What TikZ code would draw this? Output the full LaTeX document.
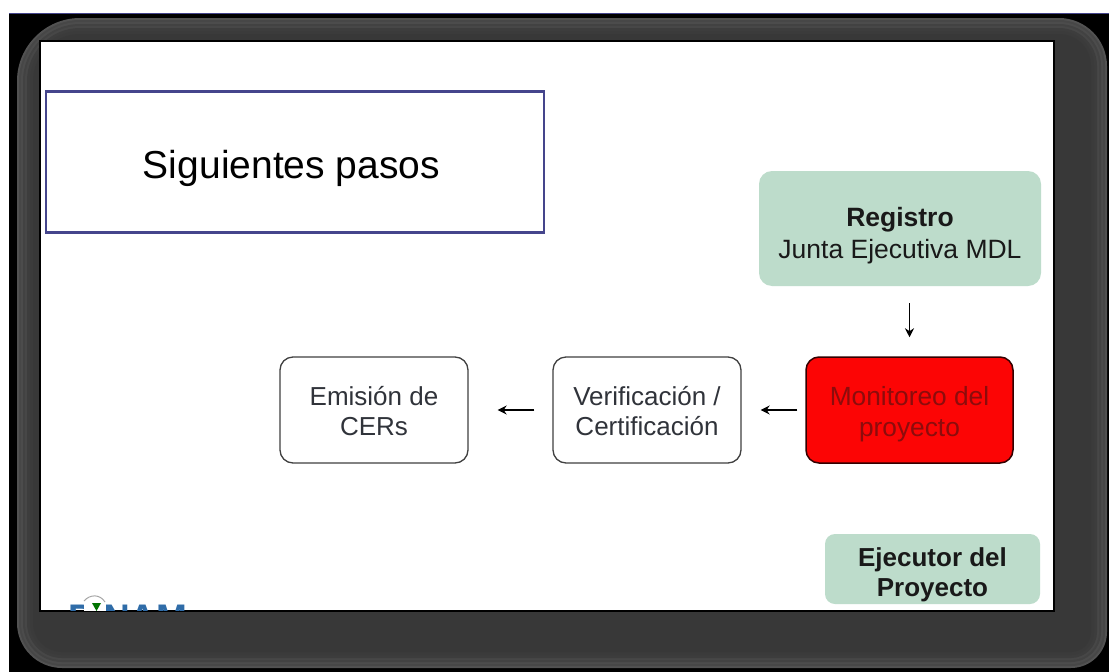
\documentclass[tikz,border=0pt]{standalone}
\usepackage{fontspec}
\setmainfont{Liberation Sans}
\usetikzlibrary{arrows.meta}
\definecolor{mint}{HTML}{BDDCCB}
\definecolor{navy}{HTML}{45458C}
\definecolor{redbox}{HTML}{FC0505}
\definecolor{darkred}{HTML}{8C0C0C}
\definecolor{logob}{HTML}{2F6CA8}
\definecolor{inkb}{HTML}{30333A}
\tikzset{
  x=1pt,y=-1pt,
  whitebox/.style={draw=black!75,line width=1.3pt,rounded corners=13pt,fill=white,align=center,inner sep=0pt,font=\fontsize{26}{30}\selectfont,text=inkb},
  mintbox/.style={fill=mint,rounded corners=13pt,align=center,inner sep=0pt,text=black!90},
  conn/.style={draw=black,line width=1.3pt,-{Stealth[length=9pt,width=9pt]}}
}
\newcommand{\bandrect}[2]{%
  \pgfmathsetmacro{\xa}{17+#1}\pgfmathsetmacro{\ya}{18+#1}%
  \pgfmathsetmacro{\xb}{1107-#1}\pgfmathsetmacro{\yb}{668-#1}%
  \pgfmathsetmacro{\ra}{max(63-#1,2)}\pgfmathsetmacro{\rb}{max(48-#1,2)}%
  \pgfmathsetmacro{\rc}{max(36-#1,2)}\pgfmathsetmacro{\rd}{max(45-#1,2)}%
  \pgfmathsetmacro{\ka}{\ra*0.45}\pgfmathsetmacro{\kb}{\rb*0.45}%
  \pgfmathsetmacro{\kc}{\rc*0.45}\pgfmathsetmacro{\kd}{\rd*0.45}%
  \fill[black!#2] (\xa+\ra,\ya) -- (\xb-\rb,\ya)
    .. controls (\xb-\kb,\ya) and (\xb,\ya+\kb) .. (\xb,\ya+\rb)
    -- (\xb,\yb-\rc)
    .. controls (\xb,\yb-\kc) and (\xb-\kc,\yb) .. (\xb-\rc,\yb)
    -- (\xa+\rd,\yb)
    .. controls (\xa+\kd,\yb) and (\xa,\yb-\kd) .. (\xa,\yb-\rd)
    -- (\xa,\ya+\ra)
    .. controls (\xa,\ya+\ka) and (\xa+\ka,\ya) .. (\xa+\ra,\ya) -- cycle;}
\begin{document}
\begin{tikzpicture}
\useasboundingbox (0,0) rectangle (1109,672);
\fill[white] (0,0) rectangle (1109,672);
\fill[black] (9,13) rectangle (1109,672);
\draw[navy,line width=0.7pt] (9,13) -- (1109,13);
\bandrect{0}{68}
\bandrect{2}{72}
\bandrect{4}{70}
\bandrect{6}{74}
\bandrect{8}{72}
\bandrect{10}{76}
\bandrect{13}{77}
\bandrect{16}{78}
\fill[white,draw=black,line width=2.2pt] (40,41) rectangle (1054,611);
\begin{scope}
\clip (41,590) rectangle (400,610);
\node[anchor=base west,inner sep=0pt,text=logob,font=\bfseries\fontsize{37}{37}\selectfont] (logo) at (68,630) {PINAM};
\fill[white] (84,590) rectangle (106,611);
\draw[black!35,line width=1pt] (84,601) .. controls (90,594) and (100,594) .. (105,602);
\fill[green!45!black] (92,603) -- (101,603) -- (96.5,611) -- cycle;
\end{scope}
\node[draw=navy,line width=2.4pt,fill=white,minimum width=498,minimum height=141,inner sep=0pt,font=\fontsize{39}{45}\selectfont,text=black] (title) at (295,162) {\hspace*{-7pt}\raisebox{-6pt}[0.72em][0.2em]{Siguientes pasos}};
\node[mintbox,minimum width=282,minimum height=115,font=\fontsize{26.5}{32}\selectfont] (reg) at (900,228.5) {\rule{0pt}{32.5pt}\textbf{Registro}\\Junta Ejecutiva MDL};
\node[draw=black!80!red,line width=1.5pt,fill=redbox,rounded corners=13pt,minimum width=207,minimum height=106,inner sep=0pt,align=center,text=darkred,font=\fontsize{26.3}{31}\selectfont] (mon) at (909.5,410) {\rule{0pt}{27pt}Monitoreo del\\proyecto};
\node[whitebox,minimum width=188,minimum height=106] (ver) at (647,410) {\rule{0pt}{21pt}Verificación /\\Certificación};
\node[whitebox,minimum width=188,minimum height=106] (emi) at (374,410) {\rule{0pt}{21pt}Emisión de\\CERs};
\node[mintbox,rounded corners=10pt,minimum width=215,minimum height=70,font=\bfseries\fontsize{26}{30}\selectfont] (eje) at (932.5,569) {\rule{0pt}{31pt}Ejecutor del\\Proyecto};
\draw[conn,shorten <=17pt,shorten >=19pt] (reg.south -| mon.north) -- (mon.north);
\draw[conn,shorten <=8pt,shorten >=19pt] (mon.west) -- (ver.east);
\draw[conn,shorten <=18pt,shorten >=29pt] (ver.west) -- (emi.east);
\end{tikzpicture}
\end{document}
